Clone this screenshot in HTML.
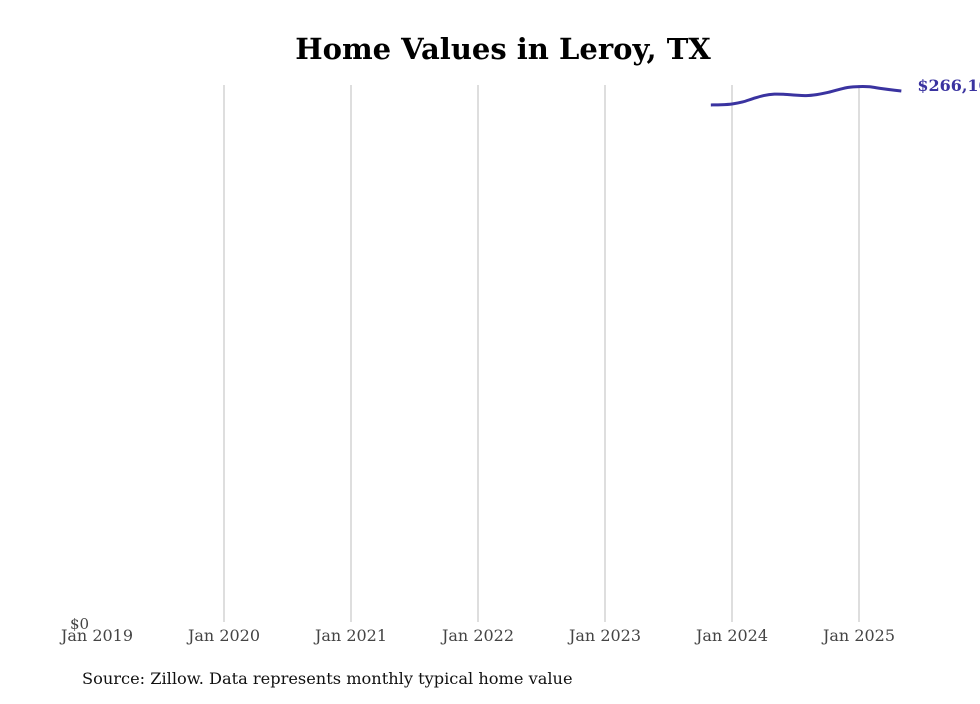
<!DOCTYPE html>
<html><head><meta charset="utf-8"><style>
body{margin:0;background:#fff;}
svg text{font-family:"DejaVu Serif","Liberation Serif",serif;}
</style></head><body>
<svg width="980" height="699" viewBox="0 0 980 699" id="chart">
<rect width="980" height="699" fill="#fff"/>
<text x="503" y="59" text-anchor="middle" font-size="29" font-weight="bold" fill="#000">Home Values in Leroy, TX</text>
<g id="grid"></g>
<g id="xlabels"></g>
<text x="70" y="629" font-size="15" fill="#444">$0</text>
<path id="line" fill="none" stroke="#3a33a0" stroke-width="3"/>
<text id="endlabel" font-size="16" font-weight="bold" fill="#3a33a0"></text>
<text x="82" y="684" font-size="16.2" fill="#111">Source: Zillow. Data represents monthly typical home value</text>
</svg>
<script>
const tickYears = [2019, 2020, 2021, 2022, 2023, 2024, 2025];
const tickLabels = ["Jan 2019","Jan 2020","Jan 2021","Jan 2022","Jan 2023","Jan 2024","Jan 2025"];
const startMonth = [2023, 10]; // Nov 2023 (0-based month)
const values = [259100,259200,259600,260600,262300,263800,264500,264400,264000,263800,264300,265300,266700,267900,268300,268200,267400,266700,266100];
const yMax = 269100;
const ns = "http://www.w3.org/2000/svg";
function xScale(t){ return 97 + (t - 2019) * 127; }
function yScale(v){ return 622 - v / yMax * 537; }
const grid = document.getElementById('grid');
const xl = document.getElementById('xlabels');
tickYears.forEach((yr, i) => {
  const x = xScale(yr);
  if (i > 0) {
    const l = document.createElementNS(ns, 'line');
    l.setAttribute('x1', x); l.setAttribute('x2', x);
    l.setAttribute('y1', 85); l.setAttribute('y2', 622);
    l.setAttribute('stroke', '#bdbdbd'); l.setAttribute('stroke-width', '1');
    
    
    grid.appendChild(l);
  }
  const t = document.createElementNS(ns, 'text');
  t.setAttribute('x', x); t.setAttribute('y', 641);
  t.setAttribute('text-anchor', 'middle'); t.setAttribute('font-size', '16');
  t.setAttribute('fill', '#444');
  
  
  t.textContent = tickLabels[i];
  xl.appendChild(t);
});
const pts = values.map((v, i) => {
  const t = startMonth[0] + (startMonth[1] + i) / 12;
  return [xScale(t), yScale(v)];
});
let d = 'M' + pts[0][0] + ',' + pts[0][1];
for (let i = 1; i < pts.length; i++) {
  const p0 = pts[i-2] || pts[i-1], p1 = pts[i-1], p2 = pts[i], p3 = pts[i+1] || pts[i];
  const c1x = p1[0] + (p2[0]-p0[0])/6, c1y = p1[1] + (p2[1]-p0[1])/6;
  const c2x = p2[0] - (p3[0]-p1[0])/6, c2y = p2[1] - (p3[1]-p1[1])/6;
  d += ' C' + c1x + ',' + c1y + ' ' + c2x + ',' + c2y + ' ' + p2[0] + ',' + p2[1];
}
document.getElementById('line').setAttribute('d', d);
const last = pts[pts.length-1];
const el = document.getElementById('endlabel');
el.setAttribute('x', last[0] + 16);
el.setAttribute('y', last[1] + 0);
el.textContent = '$' + values[values.length-1].toLocaleString('en-US');
</script>
</body></html>
